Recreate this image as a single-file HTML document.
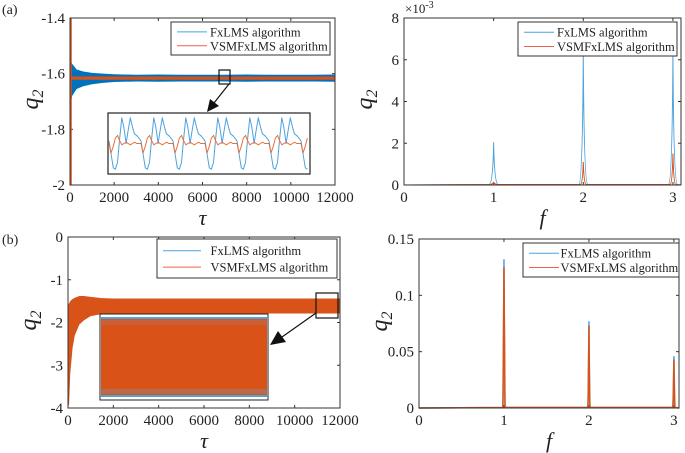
<!DOCTYPE html>
<html><head><meta charset="utf-8"><style>
body{margin:0;background:#fff}
svg{display:block;font-family:"Liberation Serif",serif}
</style></head><body>
<svg id="c" width="685" height="453" viewBox="0 0 685 453"></svg>
<script>
// ---- data ----
const aTau=[0,100,300,600,1000,1500,2000,3000,4000,5000,6000,7000,8000,9000,10000,11000,12000];
const aBlueHi=[-1.55,-1.565,-1.585,-1.592,-1.597,-1.600,-1.602,-1.604,-1.603,-1.604,-1.604,-1.604,-1.603,-1.604,-1.604,-1.604,-1.603];
const aBlueLo=[-1.72,-1.68,-1.655,-1.645,-1.638,-1.633,-1.630,-1.628,-1.629,-1.628,-1.628,-1.628,-1.629,-1.628,-1.628,-1.628,-1.629];
const aOrHi=[-1.608,-1.610,-1.610,-1.610,-1.610,-1.610,-1.610,-1.610,-1.610,-1.610,-1.610,-1.610,-1.610,-1.610,-1.610,-1.610,-1.610];
const aOrLo=[-1.625,-1.622,-1.622,-1.622,-1.622,-1.622,-1.622,-1.622,-1.622,-1.622,-1.622,-1.622,-1.622,-1.622,-1.622,-1.622,-1.622];
const inBlue=[0.1,-0.4,-0.9,-0.95,-0.7,0.2,0.95,0.6,0.0,0.5,0.95,0.6,0.35,0.3,0.2];
const inOrange=[0.0,-0.35,-0.1,0.2,0.3,0.1,-0.05,0.0,0.05,0.0,-0.05,0.0,0.05,0.0,0.0];
const sfA=[1,2,3];
const sBlueA=[2.05,6.3,6.3];
const sOrA=[0.12,1.1,1.5];
const bTau=[0,50,100,200,300,500,700,1000,1500,2000,4000,6000,8000,10000,12000];
const bHi=[-1.6,-1.55,-1.5,-1.45,-1.42,-1.38,-1.38,-1.4,-1.43,-1.44,-1.44,-1.44,-1.44,-1.44,-1.44];
const bLo=[-4,-3.9,-3.2,-2.6,-2.3,-2.05,-1.95,-1.85,-1.8,-1.79,-1.79,-1.79,-1.79,-1.79,-1.79];
const sfB=[1,2,3];
const sBlueB=[0.132,0.077,0.046];
const sOrB=[0.125,0.073,0.043];

const svg=document.getElementById('c');
const NS='http://www.w3.org/2000/svg';
function mk(t,a,p){const e=document.createElementNS(NS,t);for(const k in a)e.setAttribute(k,a[k]);(p||svg).appendChild(e);return e;}
function txt(x,y,s,opt,p){const e=mk('text',Object.assign({x:x,y:y,'font-size':14,fill:'#222'},opt||{}),p);e.textContent=s;return e;}
const BLUE='#0072BD',LBLUE='#4DA3DB',ORG='#D95319';

function axes(name,L,R,T,B,xmin,xmax,ymin,ymax,xt,xl,yt,yl,xlab){
  const g=mk('g',{});
  
  
  const X=v=>L+(v-xmin)/(xmax-xmin)*(R-L);
  const Yf=v=>B-(v-ymin)/(ymax-ymin)*(B-T);
  xt.forEach((v,i)=>{mk('line',{x1:X(v),x2:X(v),y1:B,y2:B-3,stroke:'#333'},g);mk('line',{x1:X(v),x2:X(v),y1:T,y2:T+3,stroke:'#333'},g);
    const t=txt(X(v),B+17,xl[i],{'text-anchor':'middle','font-size':15},g);});
  yt.forEach((v,i)=>{mk('line',{x1:L,x2:L+3,y1:Yf(v),y2:Yf(v),stroke:'#333'},g);mk('line',{x1:R,x2:R-3,y1:Yf(v),y2:Yf(v),stroke:'#333'},g);
    const t=txt(L-5,Yf(v)+5,yl[i],{'text-anchor':'end','font-size':15},g);});
  const xlb=txt((L+R)/2,B+40,xlab,{'text-anchor':'middle','font-size':22,'font-style':'italic'},g);
  
  const yl2=mk('text',{x:0,y:0,'font-size':24,'font-style':'italic',fill:'#222',transform:`translate(${L-32},${(T+B)/2+8}) rotate(-90)`},g);
  
  yl2.innerHTML='q<tspan font-size="16" dy="5">2</tspan>';
  return {g,X,Y:Yf,frame:()=>mk('rect',{x:L,y:T,width:R-L,height:B-T,fill:'none',stroke:'#333','stroke-width':1},g)};
}
function legend(x,y,w,h,lw){
  const g=mk('g',{});
  
  
  mk('rect',{x:x,y:y,width:w,height:h,fill:'#fff',stroke:'#333'},g);
  mk('line',{x1:x+6,x2:x+6+lw,y1:y+h*0.3,y2:y+h*0.3,stroke:LBLUE,'stroke-width':1},g);
  mk('line',{x1:x+6,x2:x+6+lw,y1:y+h*0.72,y2:y+h*0.72,stroke:'#F0604A','stroke-width':1},g);
  const a=txt(x+w-3,y+h*0.3+4.5,'FxLMS algorithm',{'font-size':12.5,'text-anchor':'end'},g);
  a.setAttribute('x',x+w-3-(w-12-lw-123));
  const b=txt(x+w-3,y+h*0.72+4.5,'VSMFxLMS algorithm',{'font-size':12.5,'text-anchor':'end'},g);
  a.setAttribute('text-anchor','start');a.setAttribute('x',x+lw+12+(w-lw-12-123)/2);
  b.setAttribute('text-anchor','start');b.setAttribute('x',x+lw+12+(w-lw-12-123)/2);
}
function band(ax,xs,hi,lo,col,name){
  let d='M'+xs.map((t,i)=>ax.X(t)+','+ax.Y(hi[i])).join('L');
  for(let i=xs.length-1;i>=0;i--)d+='L'+ax.X(xs[i])+','+ax.Y(lo[i]);
  const p=mk('path',{d:d+'Z',fill:col},ax.g);
}
function peaks(ax,fs,vals,col,wid,name,xmax,hw){
  let d='M'+ax.X(0)+','+ax.Y(0);
  fs.forEach((f,i)=>{d+=`L${ax.X(f-hw)},${ax.Y(0)-0.5}Q${ax.X(f)-0.7},${ax.Y(0)-1.5} ${ax.X(f)},${ax.Y(vals[i])}Q${ax.X(f)+0.7},${ax.Y(0)-1.5} ${ax.X(f+hw)},${ax.Y(0)-0.5}`;});
  d+='L'+ax.X(xmax)+','+ax.Y(0);
  const p=mk('path',{d:d,fill:'none',stroke:col,'stroke-width':wid},ax.g);
}

let t=txt(2,14,'(a)',{'font-size':14});
t=txt(2,244,'(b)',{'font-size':14});

// ---- panel a left ----
const tx=[0,2000,4000,6000,8000,10000,12000],txl=tx.map(String);
const a1=axes('time-plot-a',70,335,18,185,0,12000,-2,-1.4,tx,txl,[-2,-1.8,-1.6,-1.4],['-2','-1.8','-1.6','-1.4'],'τ');
band(a1,aTau,aBlueHi,aBlueLo,BLUE,'fxlms-band-a');
band(a1,aTau,aOrHi,aOrLo,ORG,'vsmfxlms-band-a');
mk('line',{x1:71,x2:71,y1:18,y2:185,stroke:ORG,'stroke-width':1.5},a1.g);
a1.frame();
legend(171,22,159,33,30);
mk('rect',{x:219,y:70,width:11,height:14,fill:'none',stroke:'#111','stroke-width':1.2},a1.g);
mk('line',{x1:229,y1:84,x2:214,y2:103,stroke:'#111','stroke-width':1.2},a1.g);
mk('polygon',{points:'207,112 210,99 219,106',fill:'#111'},a1.g);
const ig=mk('g',{});
mk('rect',{x:108,y:113,width:202,height:61,fill:'#fff',stroke:'#222','stroke-width':1.2},ig);
function wave(arr,col,name){let d='';const per=32,n=arr.length,cy=143.5,amp=27;let k=0;
  for(let x=0;x<=200;x+=per/n){const v=arr[k%n];d+=(k?'L':'M')+(109+x).toFixed(1)+','+(cy-v*amp).toFixed(1);k++;}
  const p=mk('path',{d:d,fill:'none',stroke:col,'stroke-width':1,'stroke-linejoin':'round'},ig);}
wave(inBlue,LBLUE,'inset-fxlms-line');wave(inOrange,'#E8703A','inset-vsmfxlms-line');

// ---- panel a right ----
const a2=axes('spectrum-plot-a',404,681,18,185,0,3.09,0,8,[0,1,2,3],['0','1','2','3'],[0,2,4,6,8],['0','2','4','6','8'],'f');
peaks(a2,sfA,sBlueA,LBLUE,1,'fxlms-spectrum-a',3.09,0.05);
peaks(a2,sfA,sOrA,ORG,1,'vsmfxlms-spectrum-a',3.09,0.03);
a2.frame();
t=txt(405,13,'×10',{'font-size':13});t.innerHTML='×10<tspan font-size="10" dy="-5">-3</tspan>';
legend(518,22,159,34,30);

// ---- panel b left ----
const b1=axes('time-plot-b',68,340,237,408,0,12000,-4,0,tx,txl,[-4,-3,-2,-1,0],['-4','-3','-2','-1','0'],'τ');
band(b1,bTau,bHi,bLo,ORG,'vsmfxlms-band-b');
b1.frame();
legend(157,239,180,39,38);
mk('rect',{x:316,y:293,width:22,height:25,fill:'none',stroke:'#111','stroke-width':1.2},b1.g);
const ib=mk('g',{});
mk('rect',{x:100,y:314,width:168,height:86,fill:'#fff',stroke:'#222'},ib);
mk('rect',{x:101,y:318,width:166,height:78,fill:ORG},ib);
mk('rect',{x:101,y:320,width:166,height:5,fill:'#C9603A'},ib);
mk('rect',{x:101,y:389,width:166,height:5,fill:'#B86A4A'},ib);
mk('rect',{x:101,y:317,width:166,height:2,fill:LBLUE},ib);
mk('rect',{x:101,y:395,width:166,height:2,fill:LBLUE},ib);
mk('line',{x1:316,y1:313,x2:282,y2:337,stroke:'#111','stroke-width':1.2},b1.g);
mk('polygon',{points:'270,345 278,331 286,342',fill:'#111'},b1.g);

// ---- panel b right ----
const b2=axes('spectrum-plot-b',419,679,239,408,0,3.06,0,0.15,[0,1,2,3],['0','1','2','3'],[0,0.05,0.1,0.15],['0','0.05','0.1','0.15'],'f');
peaks(b2,sfB,sBlueB,LBLUE,1.5,'fxlms-spectrum-b',3.06,0.015);
peaks(b2,sfB,sOrB,ORG,1.5,'vsmfxlms-spectrum-b',3.06,0.012);
b2.frame();
legend(523,243,156,34,30);
</script>
</body></html>
